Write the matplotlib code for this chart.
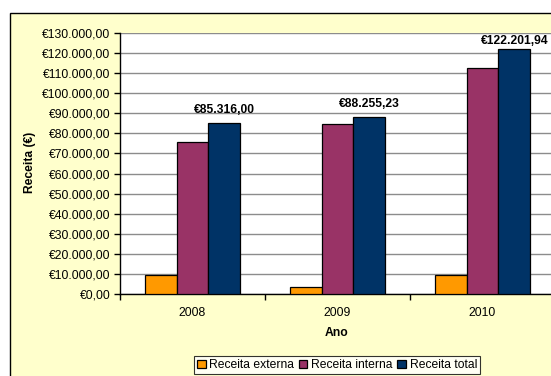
import matplotlib
matplotlib.use("Agg")
import matplotlib.pyplot as plt
from matplotlib.patches import Rectangle
from matplotlib.ticker import FuncFormatter, FixedLocator, NullFormatter
import numpy as np

plt.rcParams['font.family'] = ['Liberation Sans', 'DejaVu Sans']

# Revenue per year (EUR)
anos = ["2008", "2009", "2010"]
receita_externa = [9500.00, 3700.00, 9500.00]
receita_total = [85316.00, 88255.23, 122201.94]
receita_interna = [t - e for t, e in zip(receita_total, receita_externa)]
series_nomes = ["Receita externa", "Receita interna", "Receita total"]
series_cores = ["#FF9900", "#993366", "#003366"]

W, H = 551, 376
fig = plt.figure(figsize=(W / 100, H / 100), dpi=100, facecolor="white")

# Chart area frame
fig.patches.append(Rectangle((10 / W, -0.05), 1.0, (376 - 13) / H + 0.05,
                             transform=fig.transFigure, facecolor="#FFFFCC",
                             edgecolor="black", linewidth=1.0, zorder=-5))

ax = fig.add_axes([120 / W, (376 - 294) / H, 435 / W, (294 - 33) / H])
ax.set_zorder(2)
ax.set_facecolor("white")

fs = 8.7
x = np.arange(len(anos))
bw = 0.22
valores = [receita_externa, receita_interna, receita_total]
for i, (vals, nome, cor) in enumerate(zip(valores, series_nomes, series_cores)):
    ax.bar(x + (i - 1) * bw, vals, width=bw, color=cor, edgecolor="black",
           linewidth=0.9, label=nome, zorder=3)

# Value labels on the total bars
ymax = 130000
px_per_unit = (294 - 33) / ymax
for xi, v in zip(x, receita_total):
    txt = "€" + f"{v:,.2f}".replace(",", "X").replace(".", ",").replace("X", ".")
    off = 13
    top_px = (ymax - v) * px_per_unit
    off = min(off, top_px - 7.5)
    ax.annotate(txt, (xi + bw, v), xytext=(0, off * 0.72), textcoords="offset points",
                ha="center", va="center", fontsize=fs, fontweight="bold",
                annotation_clip=False, zorder=5)

ax.set_ylim(0, ymax)
ax.set_xlim(-0.5, len(anos) - 0.5)
ax.yaxis.set_major_locator(FixedLocator(np.arange(0, ymax + 1, 10000)))
ax.yaxis.set_major_formatter(FuncFormatter(
    lambda v, p: "€" + f"{v:,.2f}".replace(",", "X").replace(".", ",").replace("X", ".")))
ax.grid(axis="y", color="#8C8C8C", linewidth=1.0, zorder=0)
ax.set_axisbelow(True)

ax.xaxis.set_major_locator(FixedLocator(np.arange(-0.5, len(anos), 1.0)))
ax.xaxis.set_major_formatter(NullFormatter())
ax.xaxis.set_minor_locator(FixedLocator(x))
ax.set_xticklabels(anos, minor=True)
ax.tick_params(axis="x", which="minor", length=0, pad=9.5, labelsize=fs)
ax.tick_params(axis="x", which="major", length=4, width=1, direction="out")
ax.tick_params(axis="y", length=4, width=1, direction="out", pad=3, labelsize=fs)

for s in ["top", "right"]:
    ax.spines[s].set_visible(False)
for s in ["left", "bottom"]:
    ax.spines[s].set_color("black")
    ax.spines[s].set_linewidth(1.0)

fig.text(30 / W, 1 - 162 / H, "Receita (€)", rotation=90, ha="center", va="center",
         fontsize=fs, fontweight="bold")
fig.text(337 / W, 1 - 333 / H, "Ano", ha="center", va="center",
         fontsize=fs, fontweight="bold")

leg = fig.legend(loc="upper center", bbox_to_anchor=(337 / W, 1 - 356 / H),
                 ncol=3, fontsize=fs, frameon=True, fancybox=False,
                 handlelength=0.7, handleheight=0.7, handletextpad=0.3,
                 columnspacing=0.4, borderpad=0.25, borderaxespad=0)
leg.get_frame().set_edgecolor("black")
leg.get_frame().set_linewidth(0.8)
leg.get_frame().set_facecolor("white")

fig.savefig("out.png", dpi=100, facecolor="white")
